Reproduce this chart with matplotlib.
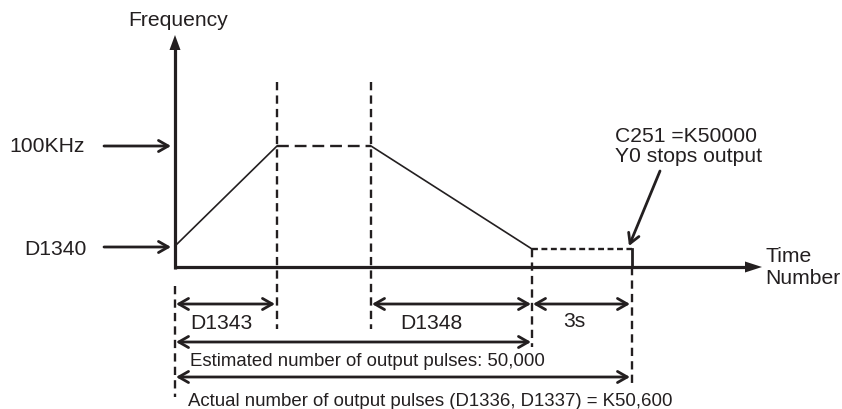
import matplotlib
matplotlib.use("Agg")
import matplotlib.pyplot as plt

plt.rcParams['font.family'] = ['Liberation Sans', 'DejaVu Sans']

# diagram coordinates (pixel-like units, y grows downwards)
origin = (175, 268)
axis_end_x = 762
axis_end_y = 36
level_high = 147       # 100KHz
level_low = 247        # D1340
level_stop = 250       # end of decel
t_accel_end = 277
t_decel_start = 371
t_decel_end = 532
t_stop = 632

guide_top = 83
row_segments = 305
row_estimated = 343
row_actual = 378

segment_labels = ["D1343", "D1348", "3s"]
estimated_label = "Estimated number of output pulses: 50,000"
actual_label = "Actual number of output pulses (D1336, D1337) = K50,600"
stop_label = ["C251 =K50000", "Y0 stops output"]

fig = plt.figure(figsize=(8.42, 4.10), dpi=100)
ax = fig.add_axes([0, 0, 1, 1])
ax.set_xlim(0, 842)
ax.set_ylim(410, 0)
ax.axis("off")

k = "#231f20"
fs = 15.2
fs_long = 13.4

# axes with filled arrow heads
ax.plot([origin[0], origin[0]], [origin[1] + 1.5, axis_end_y + 12], color=k, lw=2.3, solid_capstyle="butt")
ax.plot([origin[0] - 1, axis_end_x - 14], [origin[1], origin[1]], color=k, lw=2.3, solid_capstyle="butt")
ax.fill([origin[0] - 5.5, origin[0] + 5.5, origin[0]], [axis_end_y + 15, axis_end_y + 15, axis_end_y], color=k, lw=0)
ax.fill([axis_end_x - 17, axis_end_x - 17, axis_end_x], [origin[1] - 5.5, origin[1] + 5.5, origin[1]], color=k, lw=0)

ax.text(origin[0] + 3, 20, "Frequency", fontsize=fs, ha="center", va="center", color=k)
ax.text(765, 257, "Time", fontsize=fs, ha="left", va="center", color=k)
ax.text(765, 279, "Number", fontsize=fs, ha="left", va="center", color=k)

# frequency level markers
def pointer(x0, y0, x1, y1):
    ax.annotate("", xy=(x1, y1), xytext=(x0, y0),
                arrowprops=dict(arrowstyle="->,head_length=0.7,head_width=0.4",
                                color=k, lw=2.0, mutation_scale=10,
                                shrinkA=0, shrinkB=0))

pointer(104, level_high, 171, level_high)
pointer(104, level_low + 1, 171, level_low + 1)
ax.text(9, level_high, "100KHz", fontsize=fs, ha="left", va="center", color=k)
ax.text(24, level_low + 3, "D1340", fontsize=fs, ha="left", va="center", color=k)

# speed profile
ax.plot([origin[0], t_accel_end], [level_low, level_high], color=k, lw=1.2)
ax.plot([t_accel_end, t_decel_start], [level_high, level_high], color=k, lw=1.7, dashes=(5, 2.5))
ax.plot([t_decel_start, t_decel_end], [level_high, level_stop], color=k, lw=1.2)
ax.plot([t_decel_end, t_stop], [level_stop, level_stop], color=k, lw=1.7, dashes=(2.5, 1.5))
ax.plot([t_stop, t_stop], [level_stop, origin[1]], color=k, lw=2.0)

# dotted guide lines
guides = [(origin[0], 287, 398), (t_accel_end, guide_top, 330),
          (t_decel_start, guide_top, 330), (t_decel_end, level_stop, 348),
          (t_stop, origin[1], 388)]
for gx, g0, g1 in guides:
    ax.plot([gx, gx], [g0, g1], color=k, lw=1.7, dashes=(3.5, 2.2))

def span(x0, x1, y):
    ax.annotate("", xy=(x1, y), xytext=(x0, y),
                arrowprops=dict(arrowstyle="<->,head_length=0.7,head_width=0.4",
                                color=k, lw=2.0, mutation_scale=10,
                                shrinkA=0, shrinkB=0))

span(origin[0] + 1, t_accel_end - 2, row_segments)
span(t_decel_start + 1, t_decel_end - 1, row_segments)
span(t_decel_end + 1, t_stop - 2, row_segments)
span(origin[0] + 1, t_decel_end - 1, row_estimated)
span(origin[0] + 1, t_stop - 2, row_actual)

ax.text(190, 324, segment_labels[0], fontsize=fs, ha="left", va="center", color=k)
ax.text(400, 324, segment_labels[1], fontsize=fs, ha="left", va="center", color=k)
ax.text(563, 322, segment_labels[2], fontsize=fs, ha="left", va="center", color=k)
ax.text(190, 362, estimated_label, fontsize=fs_long, ha="left", va="center", color=k)
ax.text(188, 402, actual_label, fontsize=fs_long, ha="left", va="center", color=k)

# stop annotation
ax.text(615, 137, stop_label[0], fontsize=fs, ha="left", va="center", color=k)
ax.text(615, 157, stop_label[1], fontsize=fs, ha="left", va="center", color=k)
pointer(660, 172, 629, 247)

fig.savefig("out.png", dpi=100)
